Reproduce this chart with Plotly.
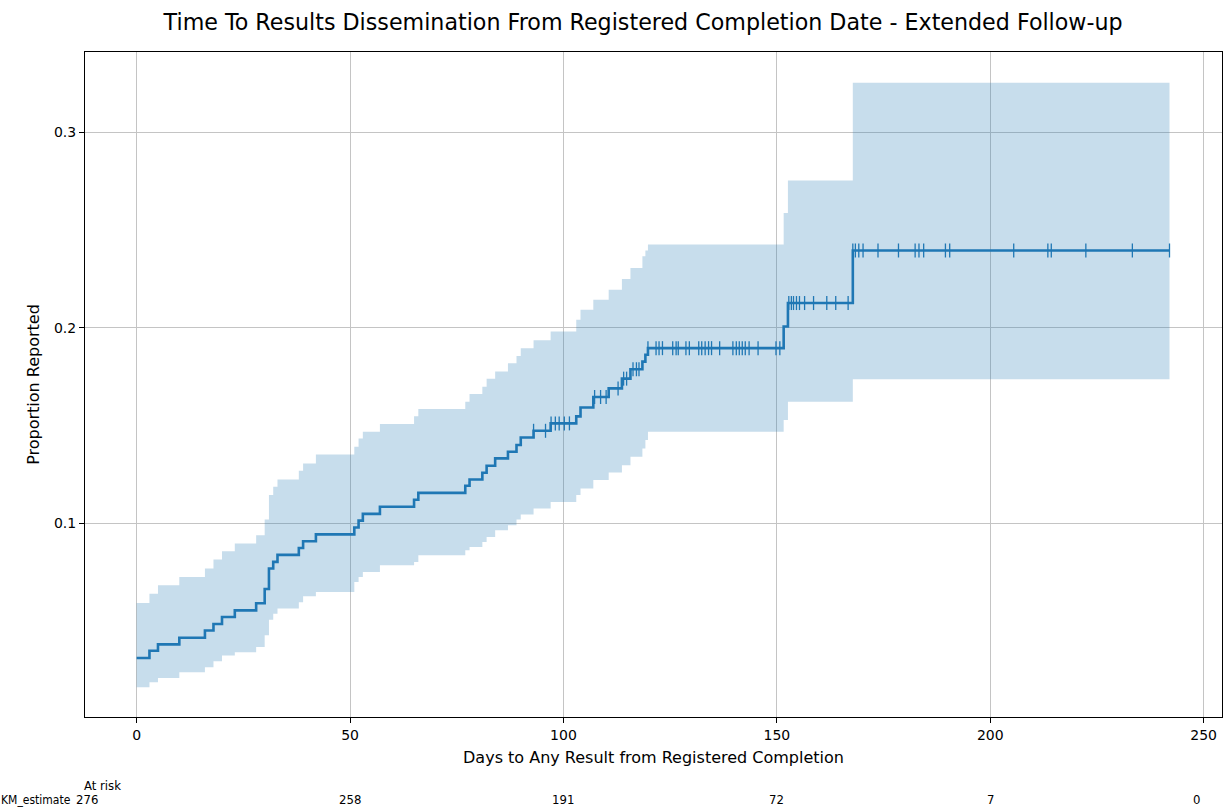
import numpy as np
import plotly.graph_objects as go

# ---- data ----
event_days = [0, 3, 5, 10, 16, 18, 20, 23, 28, 30, 31, 32, 33, 38, 39, 42, 51, 52, 53, 57,
              65, 66, 77, 78, 81, 82, 84, 87, 89, 90, 93, 97, 103, 104, 107, 110.6, 113.7,
              115.7, 118.5, 119.2, 119.8, 151.6, 152.6, 167.8]
estimate = [0.0310, 0.0347, 0.0380, 0.0414, 0.0451, 0.0484, 0.0520, 0.0554, 0.0590, 0.0663,
            0.0768, 0.0802, 0.0838, 0.0873, 0.0908, 0.0943, 0.0978, 0.1013, 0.1048, 0.1084,
            0.1120, 0.1155, 0.1192, 0.1224, 0.1258, 0.1294, 0.1332, 0.1366, 0.1400, 0.1439,
            0.1473, 0.1511, 0.1547, 0.1592, 0.1646, 0.1690, 0.1740, 0.1788, 0.1827, 0.1862,
            0.1896, 0.2007, 0.2127, 0.2396]
ci_lower = [0.0160, 0.0186, 0.0207, 0.0237, 0.0263, 0.0294, 0.0323, 0.0340, 0.0366, 0.0426,
            0.0506, 0.0537, 0.0563, 0.0596, 0.0626, 0.0648, 0.0699, 0.0725, 0.0750, 0.0785,
            0.0802, 0.0836, 0.0862, 0.0878, 0.0904, 0.0930, 0.0964, 0.0990, 0.1019, 0.1044,
            0.1075, 0.1109, 0.1144, 0.1178, 0.1221, 0.1260, 0.1297, 0.1340, 0.1383, 0.1426,
            0.1468, 0.1528, 0.1622, 0.1737]
ci_upper = [0.0591, 0.0639, 0.0682, 0.0725, 0.0768, 0.0814, 0.0856, 0.0896, 0.0938, 0.1019,
            0.1144, 0.1186, 0.1224, 0.1268, 0.1306, 0.1352, 0.1391, 0.1434, 0.1468, 0.1508,
            0.1547, 0.1585, 0.1622, 0.1662, 0.1699, 0.1740, 0.1776, 0.1819, 0.1856, 0.1896,
            0.1937, 0.1981, 0.2041, 0.2092, 0.2144, 0.2195, 0.2250, 0.2306, 0.2366, 0.2396,
            0.2426, 0.2588, 0.2754, 0.3255]
last_day = 242
censor_days = [93, 95.8, 97.1, 98.1, 99.0, 100.2, 101.4, 107.3, 108.7, 110.0, 112.8, 114.1,
               114.8, 116.3, 117.1, 117.7,
               119.8, 121.7, 122.4, 123.2, 125.6, 126.4, 126.9, 128.7, 129.5, 131.7, 132.4,
               133.2, 134.0, 134.7, 136.6, 139.7, 140.5, 141.2, 141.9, 142.6, 143.5, 145.6,
               149.8, 150.7,
               152.8, 153.4, 153.9, 154.6, 155.3, 156.5, 158.6, 161.7, 163.8, 166.7,
               167.8, 168.4, 169.2, 170.2, 173.7, 178.5, 182.4, 183.3, 184.4, 189.5, 190.5,
               205.5, 213.5, 214.3, 222.4, 233.3, 242]
at_risk_days = [0, 50, 100, 150, 200, 250]
at_risk_counts = [276, 258, 191, 72, 7, 0]

title = "Time To Results Dissemination From Registered Completion Date - Extended Follow-up"
x_title = "Days to Any Result from Registered Completion"
y_title = "Proportion Reported"

# ---- build step series ----
t = event_days + [last_day]
est = estimate + [estimate[-1]]
lo = ci_lower + [ci_lower[-1]]
up = ci_upper + [ci_upper[-1]]

idx = np.searchsorted(np.array(event_days), np.array(censor_days), side="right") - 1
censor_y = [estimate[i] for i in idx]

BLUE = "#1f77b4"
FONT = "DejaVu Sans"
COND = "DejaVu Sans Condensed, DejaVu Sans"

fig = go.Figure()
fig.add_trace(go.Scatter(x=t, y=up, mode="lines", line=dict(width=0, shape="hv"),
                         showlegend=False, hoverinfo="skip"))
fig.add_trace(go.Scatter(x=t, y=lo, mode="lines", line=dict(width=0, shape="hv"),
                         fill="tonexty", fillcolor="rgba(31,119,180,0.25)",
                         showlegend=False, hoverinfo="skip"))
fig.add_trace(go.Scatter(x=t, y=est, mode="lines", line=dict(color=BLUE, width=2.6, shape="hv"),
                         showlegend=False))
fig.add_trace(go.Scatter(x=censor_days, y=censor_y, mode="markers",
                         marker=dict(symbol="line-ns-open", size=10, color=BLUE,
                                     line=dict(color=BLUE, width=1.3)),
                         showlegend=False))

# at-risk table
ann = []
shifts = {0: -50, 250: -7}
for d, c in zip(at_risk_days, at_risk_counts):
    ann.append(dict(x=d, y=-0.1248, xref="x", yref="paper", text=str(c), showarrow=False,
                    xanchor="center", yanchor="middle", xshift=shifts.get(d, 0),
                    font=dict(family=COND, size=13, color="black")))
ann.append(dict(x=0, y=-0.1248, xref="paper", yref="paper", text="KM_estimate",
                showarrow=False, xanchor="left", yanchor="middle", xshift=-86,
                font=dict(family=COND, size=12, color="black")))
ann.append(dict(x=0, y=-0.1023, xref="paper", yref="paper", text="At risk",
                showarrow=False, xanchor="right", yanchor="middle", xshift=38,
                font=dict(family=COND, size=13, color="black")))

fig.update_layout(
    width=1225, height=808,
    margin=dict(l=85, r=3, t=52, b=91),
    paper_bgcolor="white", plot_bgcolor="white",
    font=dict(family=FONT, size=13, color="black"),
    title=dict(text=title, x=0.525, xanchor="center", y=1 - 22 / 808, yanchor="middle",
               font=dict(family=FONT, size=22.2, color="black")),
    annotations=ann,
)
fig.update_xaxes(range=[-12.1, 254.3], tickvals=at_risk_days, ticks="outside", ticklen=5,
                 tickcolor="black", showline=True, linecolor="black", linewidth=1, mirror=True,
                 showgrid=True, gridcolor="#c4c4c4", gridwidth=1, zeroline=False,
                 title=dict(text=x_title, standoff=10, font=dict(family=FONT, size=16)),
                 tickfont=dict(family=FONT, size=14))
fig.update_yaxes(range=[0.0008, 0.3412], tickvals=[0.1, 0.2, 0.3], ticks="outside", ticklen=5,
                 tickcolor="black", showline=True, linecolor="black", linewidth=1, mirror=True,
                 showgrid=True, gridcolor="#c4c4c4", gridwidth=1, zeroline=False,
                 title=dict(text=y_title, standoff=10, font=dict(family=FONT, size=16)),
                 tickfont=dict(family=FONT, size=14))

fig.write_html("out.html", config={"displayModeBar": False},
               post_script="document.body.style.margin='0';")
